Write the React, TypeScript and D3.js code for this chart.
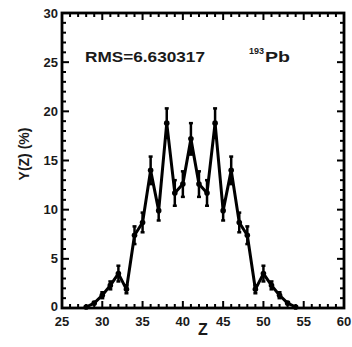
import React, { useEffect, useRef } from 'react';
import * as d3 from 'd3';

const zValues = [28, 29, 30, 31, 32, 33, 34, 35, 36, 37, 38, 39, 40, 41, 42, 43, 44, 45, 46, 47, 48, 49, 50, 51, 52, 53, 54];
const yields = [0.1, 0.5, 1.3, 2.3, 3.5, 1.9, 7.4, 8.7, 14.0, 9.9, 18.8, 11.7, 12.6, 17.2, 12.6, 11.7, 18.8, 9.9, 14.0, 8.7, 7.4, 1.9, 3.5, 2.3, 1.3, 0.5, 0.1];
const errors = [0.05, 0.1, 0.3, 0.4, 0.8, 0.4, 0.9, 1.0, 1.4, 1.0, 1.5, 1.3, 1.3, 1.6, 1.3, 1.3, 1.5, 1.0, 1.4, 1.0, 0.9, 0.4, 0.8, 0.4, 0.3, 0.1, 0.05];
const xTicks = [25, 30, 35, 40, 45, 50, 55, 60];
const yTicks = [0, 5, 10, 15, 20, 25, 30];

const W = 352;
const H = 347;
const FONT = 'Liberation Sans, Arial, sans-serif';

const YieldChart: React.FC = () => {
  const svgRef = useRef<SVGSVGElement | null>(null);

  useEffect(() => {
    const svg = d3.select(svgRef.current);
    svg.selectAll('*').remove();

    const left = 62, right = 344, top = 13, bottom = 308;
    const x = d3.scaleLinear().domain([25, 60]).range([left, right]);
    const y = d3.scaleLinear().domain([0, 30]).range([bottom, top]);

    const g = svg.append('g');

    // minor + major ticks on all four sides
    const ticks = g.append('g').attr('stroke', '#000').attr('stroke-width', 2);
    d3.range(25, 61, 1).forEach(v => {
      const len = v % 5 === 0 ? 7 : 4;
      ticks.append('line').attr('x1', x(v)).attr('x2', x(v)).attr('y1', bottom).attr('y2', bottom - len);
      ticks.append('line').attr('x1', x(v)).attr('x2', x(v)).attr('y1', top).attr('y2', top + len);
    });
    d3.range(0, 31, 1).forEach(v => {
      const len = v % 5 === 0 ? 7 : 4;
      ticks.append('line').attr('y1', y(v)).attr('y2', y(v)).attr('x1', left).attr('x2', left + len);
      ticks.append('line').attr('y1', y(v)).attr('y2', y(v)).attr('x1', right).attr('x2', right - len);
    });

    g.append('rect')
      .attr('x', left).attr('y', top)
      .attr('width', right - left).attr('height', bottom - top)
      .attr('fill', 'none').attr('stroke', '#000').attr('stroke-width', 2.8);

    // tick labels
    g.selectAll('.xl').data(xTicks).join('text')
      .attr('x', d => x(d)).attr('y', bottom + 18)
      .attr('text-anchor', 'middle')
      .attr('font-family', FONT).attr('font-weight', 'bold').attr('font-size', 13)
      .attr('fill', '#1a1a1a')
      .text(d => d);
    g.selectAll('.yl').data(yTicks).join('text')
      .attr('x', left - 4).attr('y', d => y(d) + (d === 0 ? 3 : 4.5))
      .attr('text-anchor', 'end')
      .attr('font-family', FONT).attr('font-weight', 'bold').attr('font-size', 13)
      .attr('fill', '#1a1a1a')
      .text(d => d);

    // axis titles
    g.append('text')
      .attr('x', x(42.5)).attr('y', 335)
      .attr('text-anchor', 'middle')
      .attr('font-family', FONT).attr('font-weight', 'bold').attr('font-size', 16)
      .attr('fill', '#1a1a1a')
      .text('Z');
    g.append('text')
      .attr('transform', `translate(29,${154}) rotate(-90)`)
      .attr('text-anchor', 'middle')
      .attr('font-family', FONT).attr('font-weight', 'bold').attr('font-size', 14)
      .attr('fill', '#1a1a1a')
      .text('Y(Z) (%)');

    // annotations
    g.append('text')
      .attr('x', 85).attr('y', 62)
      .attr('font-family', FONT).attr('font-weight', 'bold').attr('font-size', 15)
      .attr('textLength', 120).attr('lengthAdjust', 'spacingAndGlyphs')
      .attr('fill', '#1a1a1a')
      .text('RMS=6.630317');
    g.append('text')
      .attr('x', 249).attr('y', 54)
      .attr('font-family', FONT).attr('font-weight', 'bold').attr('font-size', 9)
      .attr('fill', '#1a1a1a')
      .text('193');
    g.append('text')
      .attr('x', 265).attr('y', 62)
      .attr('font-family', FONT).attr('font-weight', 'bold').attr('font-size', 15)
      .attr('textLength', 25).attr('lengthAdjust', 'spacingAndGlyphs')
      .attr('fill', '#1a1a1a')
      .text('Pb');

    const pts = zValues.map((z, i) => ({ z, v: yields[i], e: errors[i] }));

    // error bars
    const eb = g.append('g').attr('stroke', '#000').attr('stroke-width', 2.5);
    pts.forEach(p => {
      eb.append('line').attr('x1', x(p.z)).attr('x2', x(p.z)).attr('y1', y(p.v - p.e)).attr('y2', y(p.v + p.e));
      eb.append('line').attr('x1', x(p.z) - 2).attr('x2', x(p.z) + 2).attr('y1', y(p.v - p.e)).attr('y2', y(p.v - p.e));
      eb.append('line').attr('x1', x(p.z) - 2).attr('x2', x(p.z) + 2).attr('y1', y(p.v + p.e)).attr('y2', y(p.v + p.e));
    });

    const line = d3.line<{ z: number; v: number }>().x(d => x(d.z)).y(d => y(d.v));
    g.append('path')
      .datum(pts)
      .attr('d', line)
      .attr('fill', 'none').attr('stroke', '#000').attr('stroke-width', 3)
      .attr('stroke-linejoin', 'round');

    g.selectAll('.pt').data(pts).join('circle')
      .attr('cx', d => x(d.z)).attr('cy', d => y(d.v)).attr('r', 2.8)
      .attr('fill', '#000');
  }, []);

  return <svg ref={svgRef} width={W} height={H} style={{ position: 'absolute', left: 0, top: 0, background: '#fff' }}></svg>;
};

export default function App() {
  return <YieldChart />;
}
